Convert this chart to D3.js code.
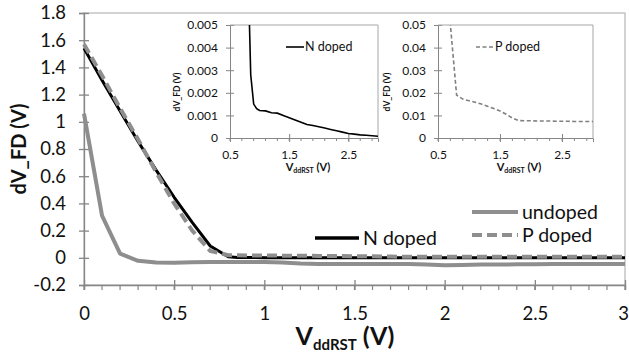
<!DOCTYPE html>
<html><head><meta charset="utf-8">
<script src="https://cdn.jsdelivr.net/npm/d3@7"></script>
<style>
html,body{margin:0;padding:0;background:#fff;}
svg{display:block;font-family:Lato,"Open Sans",sans-serif;}
</style></head>
<body>
<svg id="c" width="629" height="358"></svg>
<script>
// ---- data ----
const nX = [0,0.1,0.2,0.3,0.4,0.5,0.6,0.7,0.8,0.85,0.9,0.95,1.0,1.1,1.2,1.3,1.4,1.5,1.6,1.7,1.8,1.9,2.0,2.1,2.2,2.3,2.4,2.5,2.6,2.7,2.8,2.9,3.0];
const nY = [1.54,1.305,1.08,0.855,0.645,0.445,0.26,0.087,0.008,0.0028,0.0015,0.0013,0.00122,0.0012,0.00112,0.0011,0.001,0.0009,0.0008,0.0007,0.0006,0.00055,0.0005,0.00044,0.00038,0.00032,0.00026,0.0002,0.00017,0.00014,0.00012,0.0001,0.00008];
const pX = [0,0.1,0.2,0.3,0.4,0.5,0.6,0.7,0.8,0.9,1.0,1.1,1.2,1.3,1.4,1.5,1.6,1.7,1.8,1.9,2.0,2.1,2.2,2.3,2.4,2.5,2.6,2.7,2.8,2.9,3.0];
const pY = [1.57,1.34,1.1,0.87,0.63,0.40,0.2,0.05,0.019,0.0172,0.0165,0.0158,0.015,0.014,0.013,0.012,0.0105,0.0088,0.0077,0.0076,0.0076,0.0075,0.0075,0.0075,0.0074,0.0074,0.0074,0.0073,0.0073,0.0073,0.0073];
const uX = [0,0.1,0.2,0.3,0.4,0.5,0.6,0.7,0.8,0.9,1.0,1.1,1.2,1.3,1.4,1.5,1.6,1.7,1.8,1.9,2.0,2.1,2.2,2.3,2.4,2.5,2.6,2.7,2.8,2.9,3.0];
const uY = [1.06,0.31,0.03,-0.022,-0.035,-0.036,-0.032,-0.03,-0.03,-0.03,-0.03,-0.035,-0.042,-0.045,-0.045,-0.045,-0.045,-0.045,-0.046,-0.05,-0.055,-0.053,-0.05,-0.05,-0.048,-0.047,-0.046,-0.046,-0.045,-0.045,-0.045];
const mainXTicks = [0,0.5,1,1.5,2,2.5,3];
const mainXTickLabels = ["0","0.5","1","1.5","2","2.5","3"];
const mainYTicks = [-0.2,0,0.2,0.4,0.6,0.8,1,1.2,1.4,1.6,1.8];
const mainYTickLabels = ["-0.2","0","0.2","0.4","0.6","0.8","1","1.2","1.4","1.6","1.8"];
const insetXTicks = [0.5,1.5,2.5];
const insetXTickLabels = ["0.5","1.5","2.5"];
const inset1YTicks = [0,0.001,0.002,0.003,0.004,0.005];
const inset1YTickLabels = ["0","0.001","0.002","0.003","0.004","0.005"];
const inset2YTicks = [0,0.01,0.02,0.03,0.04,0.05];
const inset2YTickLabels = ["0","0.01","0.02","0.03","0.04","0.05"];

const svg = d3.select("#c");
const AX = "#868686";
const GRAY = "#8e8e8e";

// ---- main chart ----
const x = d3.scaleLinear().domain([0,3]).range([84,625]);
const y = d3.scaleLinear().domain([-0.2,1.8]).range([285,13]);

svg.append("rect").attr("x",84).attr("y",13).attr("width",625-84).attr("height",285-13)
  .attr("fill","none").attr("stroke","#a6a6a6").attr("stroke-width",1);

// y axis
const yAx = svg.append("g").attr("transform","translate(84,0)")
  .call(d3.axisLeft(y).tickValues(mainYTicks).tickFormat((d,i)=>mainYTickLabels[i]).tickSize(5).tickPadding(13));
yAx.select(".domain").attr("stroke",AX).attr("stroke-width",1.3);
yAx.selectAll(".tick line").attr("x1",-5).attr("x2",5).attr("stroke",AX).attr("stroke-width",1.3);
yAx.selectAll("text").attr("font-size",18.5).attr("fill","#111").attr("font-family","Lato");

// x axis
const xAx = svg.append("g").attr("transform","translate(0,285)")
  .call(d3.axisBottom(x).tickValues(mainXTicks).tickFormat((d,i)=>mainXTickLabels[i]).tickSize(5).tickPadding(17));
xAx.select(".domain").attr("stroke",AX).attr("stroke-width",1.3);
xAx.selectAll(".tick line").attr("y1",-5).attr("y2",5).attr("stroke",AX).attr("stroke-width",1.3);
xAx.selectAll("text").attr("font-size",18.5).attr("fill","#111").attr("font-family","Lato")
  .attr("dx",(d)=> d===3 ? -2 : 0);
svg.append("g").selectAll("line").data(d3.range(0,31).map(i=>i/10)).join("line")
  .attr("x1",d=>x(d)).attr("x2",d=>x(d)).attr("y1",285).attr("y2",290)
  .attr("stroke",AX).attr("stroke-width",1.2);

// titles
svg.append("text").attr("transform","translate(26,149) rotate(-90)").attr("text-anchor","middle")
  .attr("font-size",20).attr("font-weight","bold").attr("fill","#111").text("dV_FD (V)");
const xt = svg.append("text").attr("x",345).attr("y",345).attr("text-anchor","middle")
  .attr("font-weight","bold").attr("fill","#111").attr("font-size",25);
xt.append("tspan").text("V");
xt.append("tspan").attr("font-size",15).attr("dy",5).text("ddRST");
xt.append("tspan").attr("dy",-5).text(" (V)");

const line = (sx,sy)=>d3.line().x(d=>sx(d[0])).y(d=>sy(d[1]));
const zip = (a,b)=>a.map((v,i)=>[v,b[i]]);

svg.append("path").datum(zip(uX,uY)).attr("d",line(x,y)).attr("fill","none")
  .attr("stroke",GRAY).attr("stroke-width",4).attr("stroke-linejoin","round");
svg.append("path").datum(zip(nX,nY)).attr("d",line(x,y)).attr("fill","none")
  .attr("stroke","#000").attr("stroke-width",3).attr("stroke-linejoin","round");
svg.append("path").datum(zip(pX,pY)).attr("d",line(x,y)).attr("fill","none")
  .attr("stroke",GRAY).attr("stroke-width",4).attr("stroke-dasharray","10,5");

// legend
function legItem(x1,x2,yy,label,stroke,w,dash){
  svg.append("line").attr("x1",x1).attr("x2",x2).attr("y1",yy).attr("y2",yy)
    .attr("stroke",stroke).attr("stroke-width",w).attr("stroke-dasharray",dash||null);
  svg.append("text").attr("x",x2+4).attr("y",yy).attr("dy","0.35em").attr("font-size",19.5)
    .attr("fill","#111").text(label);
}
legItem(315,359,238,"N doped","#000",3.5);
legItem(472,518,212,"undoped",GRAY,4);
legItem(472,518,235,"P doped",GRAY,4,"10,5");

// ---- insets ----
function inset(id, xr, yDom, yTicks, yTickLabels, xs, ys, color, dash, legX, legLabel, ytX, xtX){
  const sx = d3.scaleLinear().domain([0.5,3]).range(xr);
  const sy = d3.scaleLinear().domain(yDom).range([138,25]);
  const g = svg.append("g");
  g.append("clipPath").attr("id",id).append("rect").attr("x",xr[0]).attr("y",25)
    .attr("width",xr[1]-xr[0]).attr("height",113);
  const ya = g.append("g").attr("transform",`translate(${xr[0]},0)`)
    .call(d3.axisLeft(sy).tickValues(yTicks).tickFormat((d,i)=>yTickLabels[i]).tickSize(4).tickPadding(8));
  ya.select(".domain").attr("stroke",AX);
  ya.selectAll(".tick line").attr("x1",-4).attr("x2",4).attr("stroke",AX);
  ya.selectAll("text").attr("font-size",12).attr("fill","#111").attr("font-family","Lato");
  const xa = g.append("g").attr("transform","translate(0,138)")
    .call(d3.axisBottom(sx).tickValues(insetXTicks).tickFormat((d,i)=>insetXTickLabels[i]).tickSize(4).tickPadding(8));
  xa.select(".domain").attr("stroke",AX);
  xa.selectAll(".tick line").attr("y1",-4).attr("y2",4).attr("stroke",AX);
  xa.selectAll("text").attr("font-size",12).attr("fill","#111").attr("font-family","Lato");
  g.append("g").selectAll("line").data(d3.range(5,31,2).map(i=>i/10)).join("line")
    .attr("x1",d=>sx(d)).attr("x2",d=>sx(d)).attr("y1",138).attr("y2",141).attr("stroke",AX);
  g.append("line").attr("x1",xr[1]).attr("x2",xr[1]).attr("y1",25).attr("y2",138).attr("stroke","#a6a6a6");
  g.append("line").attr("x1",xr[0]).attr("x2",xr[1]).attr("y1",25).attr("y2",25).attr("stroke","#a6a6a6");
  g.append("path").datum(zip(xs,ys)).attr("d",line(sx,sy)).attr("clip-path",`url(#${id})`)
    .attr("fill","none").attr("stroke",color).attr("stroke-width",1.6).attr("stroke-dasharray",dash||null);
  g.append("line").attr("x1",legX).attr("x2",legX+18).attr("y1",47).attr("y2",47)
    .attr("stroke",color).attr("stroke-width",1.6).attr("stroke-dasharray",dash||null);
  g.append("text").attr("x",legX+19).attr("y",47).attr("dy","0.35em").attr("font-size",12.5)
    .attr("fill","#111").text(legLabel);
  g.append("text").attr("transform",`translate(${ytX},92) rotate(-90)`).attr("text-anchor","middle")
    .attr("font-size",8.5).attr("font-weight","bold").attr("fill","#111").text("dV_FD (V)");
  const t = g.append("text").attr("x",xtX).attr("y",171).attr("text-anchor","middle")
    .attr("font-size",11).attr("font-weight","bold").attr("fill","#111");
  t.append("tspan").text("V");
  t.append("tspan").attr("font-size",7).attr("dy",2).text("ddRST");
  t.append("tspan").attr("dy",-2).text(" (V)");
}
inset("clip1",[230,378],[0,0.005],inset1YTicks,inset1YTickLabels,nX,nY,"#000",null,286,"N doped",180,308);
inset("clip2",[438,593],[0,0.05],inset2YTicks,inset2YTickLabels,pX,pY,"#808080","4,2.5",476,"P doped",390,519);
</script>
</body></html>
